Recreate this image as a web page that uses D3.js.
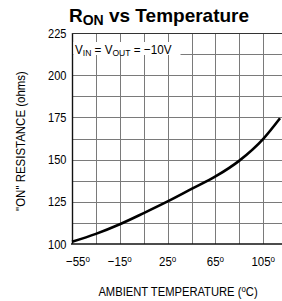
<!DOCTYPE html>
<html><head><meta charset="utf-8">
<script src="https://cdn.jsdelivr.net/npm/d3@7"></script>
<style>
html,body{margin:0;padding:0;background:#fff;}
svg{display:block;}
text{font-family:"Liberation Sans",Arial,Helvetica,sans-serif;}
</style></head>
<body>
<script>
// Data
const temps = [-55, -35, -15, 5, 25, 45, 65, 85, 105, 119];
const ron   = [101.3, 106, 111.7, 118.3, 125.2, 132.6, 140, 149.4, 162.3, 174.5];
const xTicks = [-55, -15, 25, 65, 105];
const yTicks = [100, 125, 150, 175, 200, 225];
const xGrid = [-35, -15, 5, 25, 45, 65, 85, 105, 125];
const yGrid = [112.5, 125, 137.5, 150, 162.5, 175, 187.5, 200, 212.5];

const W = 282, H = 301;
const svg = d3.select("body").append("svg").attr("width", W).attr("height", H);

const x = d3.scaleLinear().domain([-55, 125]).range([72, 287.2]);
const y = d3.scaleLinear().domain([100, 225]).range([244, 33]);
const SX = 0.85; // condensed look

// grid
svg.append("g").selectAll("line").data(xGrid).join("line")
  .attr("x1", d => Math.round(x(d)) + 0.5).attr("x2", d => Math.round(x(d)) + 0.5)
  .attr("y1", y(225)).attr("y2", y(100))
  .attr("stroke", "#7a7a7a").attr("stroke-width", 1);
svg.append("g").selectAll("line").data(yGrid).join("line")
  .attr("x1", x(-55)).attr("x2", W)
  .attr("y1", d => Math.round(y(d)) + 0.5).attr("y2", d => Math.round(y(d)) + 0.5)
  .attr("stroke", "#7a7a7a").attr("stroke-width", 1);

// frame lines
svg.append("line").attr("x1", x(-55) + 0.5).attr("x2", x(-55) + 0.5).attr("y1", y(225)).attr("y2", y(100))
  .attr("stroke", "#111").attr("stroke-width", 1.4);
svg.append("line").attr("x1", x(-55) - 1).attr("x2", W).attr("y1", y(100)).attr("y2", y(100))
  .attr("stroke", "#111").attr("stroke-width", 1.4);
svg.append("line").attr("x1", x(-55)).attr("x2", W).attr("y1", y(225) + 0.5).attr("y2", y(225) + 0.5)
  .attr("stroke", "#333").attr("stroke-width", 1.2);

// annotation with white box
svg.append("rect").attr("x", x(-55) + 1.5).attr("y", 42).attr("width", 107).attr("height", 13).attr("fill", "#fff");
const annG = svg.append("g").attr("transform", `translate(${x(-55) + 3},53.5) scale(0.9,1)`);
const ann = annG.append("text").attr("font-size", 13).attr("fill", "#000");
ann.append("tspan").text("V");
ann.append("tspan").attr("font-size", 9.5).attr("dy", 2).text("IN");
ann.append("tspan").attr("dy", -2).text(" = V");
ann.append("tspan").attr("font-size", 9.5).attr("dy", 2).text("OUT");
ann.append("tspan").attr("dy", -2).text(" = \u221210V");

// curve
const line = d3.line().x((d, i) => x(temps[i])).y(d => y(d)).curve(d3.curveMonotoneX);
svg.append("path").datum(ron).attr("d", line).attr("fill", "none")
  .attr("stroke", "#000").attr("stroke-width", 2.6);

// y tick labels
svg.append("g").selectAll("g").data(yTicks).join("g")
  .attr("transform", d => `translate(66.5,${y(d) + 4.5}) scale(${SX},1)`)
  .append("text").attr("text-anchor", "end").attr("font-size", 13).text(d => d);

// x tick labels
const xl = svg.append("g").selectAll("g").data(xTicks).join("g")
  .attr("transform", (d, i) => `translate(${x(d) + (i === 0 ? 6 : 0)},265.5) scale(${SX},1)`)
  .append("text").attr("text-anchor", "middle").attr("font-size", 13.5);
xl.append("tspan").text(d => (d < 0 ? "\u2212" : "") + Math.abs(d));
xl.append("tspan").attr("font-size", 9.5).attr("dy", -4).text("o");

// axis titles
const xt = svg.append("g").attr("transform", `translate(178,295.5) scale(0.83,1)`)
  .append("text").attr("text-anchor", "middle").attr("font-size", 13.5);
xt.append("tspan").text("AMBIENT TEMPERATURE (");
xt.append("tspan").attr("font-size", 9.5).attr("dy", -4).text("o");
xt.append("tspan").attr("dy", 4).text("C)");

svg.append("g").attr("transform", "translate(24.5,141) rotate(-90) scale(0.85,1)")
  .append("text").attr("text-anchor", "middle").attr("font-size", 13.5).text("\"ON\" RESISTANCE (ohms)");

// title
const tt = svg.append("text").attr("x", 159).attr("y", 22).attr("text-anchor", "middle")
  .attr("font-weight", "bold").attr("font-size", 19);
tt.append("tspan").text("R");
tt.append("tspan").attr("font-size", 14).attr("dy", 3).text("ON");
tt.append("tspan").attr("dy", -3).text(" vs Temperature");
</script>
</body></html>
